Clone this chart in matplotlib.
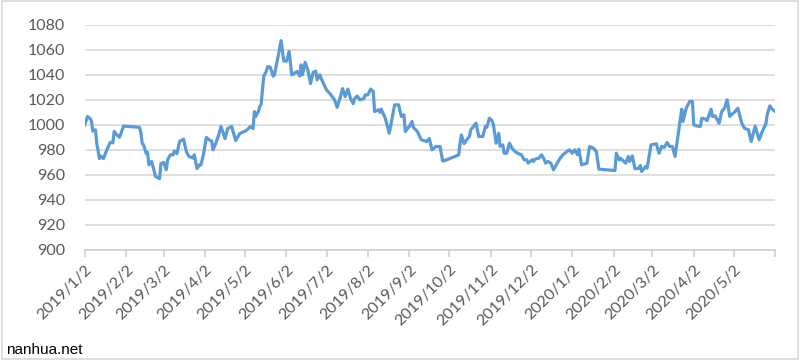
import matplotlib
matplotlib.use("Agg")
import matplotlib.pyplot as plt
from matplotlib.patches import Rectangle
import pandas as pd

# index level (turning points)
dates = [
    "2019-01-02", "2019-01-04", "2019-01-06", "2019-01-07", "2019-01-08", "2019-01-10",
    "2019-01-11", "2019-01-13", "2019-01-14", "2019-01-16", "2019-01-18", "2019-01-21",
    "2019-01-23", "2019-01-24", "2019-01-26", "2019-01-28", "2019-01-31", "2019-02-12",
    "2019-02-13", "2019-02-14", "2019-02-15", "2019-02-17", "2019-02-18", "2019-02-19",
    "2019-02-21", "2019-02-22", "2019-02-24", "2019-02-27", "2019-02-28", "2019-03-02",
    "2019-03-04", "2019-03-05", "2019-03-07", "2019-03-09", "2019-03-10", "2019-03-12",
    "2019-03-14", "2019-03-16", "2019-03-17", "2019-03-19", "2019-03-21", "2019-03-24",
    "2019-03-25", "2019-03-27", "2019-03-29", "2019-03-30", "2019-04-01", "2019-04-03",
    "2019-04-05", "2019-04-07", "2019-04-08", "2019-04-10", "2019-04-12", "2019-04-14",
    "2019-04-17", "2019-04-19", "2019-04-22", "2019-04-25", "2019-04-28", "2019-05-03",
    "2019-05-06", "2019-05-08", "2019-05-09", "2019-05-10", "2019-05-12", "2019-05-13",
    "2019-05-14", "2019-05-16", "2019-05-18", "2019-05-19", "2019-05-21", "2019-05-23",
    "2019-05-24", "2019-05-27", "2019-05-29", "2019-05-31", "2019-06-02", "2019-06-04",
    "2019-06-06", "2019-06-10", "2019-06-12", "2019-06-13", "2019-06-14", "2019-06-16",
    "2019-06-18", "2019-06-20", "2019-06-22", "2019-06-24", "2019-06-25", "2019-06-27",
    "2019-06-28", "2019-07-02", "2019-07-05", "2019-07-08", "2019-07-10", "2019-07-12",
    "2019-07-14", "2019-07-16", "2019-07-18", "2019-07-20", "2019-07-22", "2019-07-23",
    "2019-07-25", "2019-07-27", "2019-07-30", "2019-07-31", "2019-08-02", "2019-08-04",
    "2019-08-06", "2019-08-07", "2019-08-10", "2019-08-11", "2019-08-12", "2019-08-15",
    "2019-08-18", "2019-08-22", "2019-08-25", "2019-08-27", "2019-08-29", "2019-08-30",
    "2019-09-02", "2019-09-04", "2019-09-05", "2019-09-08", "2019-09-11", "2019-09-15",
    "2019-09-17", "2019-09-19", "2019-09-22", "2019-09-25", "2019-09-27", "2019-09-30",
    "2019-10-09", "2019-10-10", "2019-10-11", "2019-10-13", "2019-10-15", "2019-10-17",
    "2019-10-18", "2019-10-22", "2019-10-24", "2019-10-27", "2019-10-29", "2019-10-30",
    "2019-11-01", "2019-11-03", "2019-11-04", "2019-11-06", "2019-11-08", "2019-11-09",
    "2019-11-11", "2019-11-12", "2019-11-14", "2019-11-16", "2019-11-18", "2019-11-20",
    "2019-11-23", "2019-11-25", "2019-11-27", "2019-11-29", "2019-11-30", "2019-12-03",
    "2019-12-04", "2019-12-05", "2019-12-08", "2019-12-10", "2019-12-12", "2019-12-13",
    "2019-12-15", "2019-12-17", "2019-12-19", "2019-12-21", "2019-12-24", "2019-12-26",
    "2019-12-29", "2019-12-31", "2020-01-02", "2020-01-04", "2020-01-06", "2020-01-07",
    "2020-01-09", "2020-01-13", "2020-01-15", "2020-01-18", "2020-01-20", "2020-01-22",
    "2020-02-03", "2020-02-04", "2020-02-06", "2020-02-07", "2020-02-09", "2020-02-11",
    "2020-02-13", "2020-02-14", "2020-02-16", "2020-02-18", "2020-02-21", "2020-02-22",
    "2020-02-23", "2020-02-26", "2020-02-27", "2020-02-28", "2020-03-01", "2020-03-05",
    "2020-03-07", "2020-03-09", "2020-03-11", "2020-03-13", "2020-03-15", "2020-03-17",
    "2020-03-19", "2020-03-22", "2020-03-24", "2020-03-25", "2020-03-27", "2020-03-28",
    "2020-03-30", "2020-04-01", "2020-04-02", "2020-04-04", "2020-04-07", "2020-04-08",
    "2020-04-11", "2020-04-12", "2020-04-15", "2020-04-16", "2020-04-18", "2020-04-21",
    "2020-04-23", "2020-04-25", "2020-04-27", "2020-04-29", "2020-05-03", "2020-05-05",
    "2020-05-08", "2020-05-10", "2020-05-13", "2020-05-15", "2020-05-17", "2020-05-18",
    "2020-05-21", "2020-05-23", "2020-05-26", "2020-05-27", "2020-05-29", "2020-05-30",
    "2020-06-02",
]
values = [
    1000, 1006.7, 1005, 1003, 995, 996,
    985, 973, 975, 973, 978.7, 986,
    985.6, 994.7, 992, 990, 999, 998,
    993.6, 985, 984, 977, 978, 968,
    970.7, 967, 958.7, 957, 969, 970,
    964, 972, 976, 976, 979, 977,
    986.7, 988, 988.5, 978.7, 974.7, 973.5,
    976, 965, 968, 968, 977, 990,
    988, 987, 980, 985, 991, 998.7,
    989, 997, 998.7, 987.4, 993, 995.5,
    998.7, 997, 1010.7, 1006.7, 1010.7, 1014.7,
    1016, 1038.7, 1043, 1046.7, 1046, 1039,
    1040, 1056, 1067.4, 1051, 1051, 1058.7,
    1040, 1042.7, 1039, 1048, 1040, 1050,
    1044, 1033, 1042, 1043, 1036, 1040,
    1037, 1028, 1024.5, 1020, 1014, 1021,
    1029, 1022.6, 1028.6, 1021, 1017, 1021,
    1023, 1020, 1021, 1024, 1024, 1028.6,
    1026.7, 1010.7, 1012, 1010, 1012.6, 1005.3,
    993.3, 1016, 1016, 1006.7, 1008, 994.7,
    998.7, 1002.7, 998, 994.7, 988, 986.7,
    989, 980, 982.7, 982.7, 971, 972,
    976, 985, 992, 985, 988, 990.7,
    996, 1001.3, 990.7, 990.7, 998.7, 998,
    1005.3, 1003.3, 1000, 985.3, 993.3, 982.7,
    984, 977.3, 977.3, 985.3, 981.3, 978.7,
    976.8, 976, 972, 972, 969.3, 972,
    970.7, 972.5, 973.3, 976, 972.5, 969.3,
    970.7, 969.3, 964, 968, 973.3, 976,
    978.7, 980, 977.3, 980, 976, 980.5,
    968, 969.3, 982.7, 981.3, 978.7, 964.5,
    963.5, 977.3, 972, 973.3, 971.5, 969.3,
    974.7, 970.7, 975.2, 964.8, 965.3, 967.5,
    962.7, 966.7, 965.3, 971, 984, 984.8,
    977.3, 982.7, 982, 985.9, 982.7, 982.7,
    974.7, 997.3, 1012.5, 1002.7, 1012, 1014.7,
    1018.7, 1018.7, 1000, 999.2, 998.7, 1005.3,
    1004.5, 1003.3, 1012.5, 1006.7, 1007.2, 1001.3,
    1010.7, 1013.3, 1020, 1006.7, 1010.7, 1013.3,
    1001.3, 997.3, 996, 986.7, 994.7, 999,
    988, 993.9, 1000.8, 1008, 1015.2, 1013.3,
    1010.7,
]

tick_dates = [
    "2019-01-02", "2019-02-02", "2019-03-02", "2019-04-02", "2019-05-02", "2019-06-02",
    "2019-07-02", "2019-08-02", "2019-09-02", "2019-10-02", "2019-11-02", "2019-12-02",
    "2020-01-02", "2020-02-02", "2020-03-02", "2020-04-02", "2020-05-02", "2020-06-02",
]
tick_labels = [
    "2019/1/2", "2019/2/2", "2019/3/2", "2019/4/2", "2019/5/2", "2019/6/2",
    "2019/7/2", "2019/8/2", "2019/9/2", "2019/10/2", "2019/11/2", "2019/12/2",
    "2020/1/2", "2020/2/2", "2020/3/2", "2020/4/2", "2020/5/2", "",
]
y_ticks = list(range(900, 1081, 20))

x = pd.to_datetime(dates)

plt.rcParams["font.family"] = ["Lato", "DejaVu Sans"]

fig = plt.figure(figsize=(8, 3.6), dpi=100)
ax = fig.add_axes([0.106, 0.306, 0.863, 0.625])

ax.plot(x, values, color="#5b9bd5", linewidth=2.3, solid_joinstyle="round")

ax.set_ylim(900, 1080)
ax.set_yticks(y_ticks)
ax.set_xlim(pd.Timestamp("2019-01-02"), pd.Timestamp("2020-06-02"))
ax.set_xticks(pd.to_datetime(tick_dates))
ax.set_xticklabels(tick_labels, rotation=45, ha="right", rotation_mode="anchor")

ax.grid(axis="y", color="#d9d9d9", linewidth=1.2)
ax.set_axisbelow(True)
for s in ["top", "right", "left"]:
    ax.spines[s].set_visible(False)
ax.spines["bottom"].set_color("#d0d0d0")
ax.spines["bottom"].set_linewidth(1.2)
ax.tick_params(axis="y", length=0, labelsize=11.5, labelcolor="#595959", pad=14)
ax.tick_params(axis="x", length=5, width=1.2, color="#d0d0d0", labelsize=11.5,
               labelcolor="#595959", pad=4)

fig.text(0.008, 0.018, "nanhua.net", fontsize=11, color="black",
         family=["Liberation Sans", "DejaVu Sans"])
fig.patches.append(Rectangle((0.002, 0.003), 0.995, 0.993, transform=fig.transFigure,
                             fill=False, edgecolor="#d9d9d9", linewidth=1.2))

fig.savefig("out.png", dpi=100)
